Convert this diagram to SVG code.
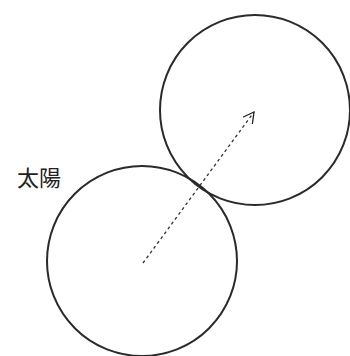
<svg xmlns="http://www.w3.org/2000/svg" width="350" height="356" viewBox="0 0 350 356">
<style>
.c{fill:none;stroke:#2a2a2a;stroke-width:2}
.lbl{font-family:"Liberation Serif","Noto Sans CJK JP",serif;font-size:22px;fill:#222}
</style>
<defs>
<marker id="ah" viewBox="0 0 12 12" refX="11" refY="6" markerWidth="12" markerHeight="12" markerUnits="userSpaceOnUse" orient="auto">
<path d="M0,0 L11,6 L0,12" fill="none" stroke="#222" stroke-width="1.3"/>
</marker>
</defs>
<rect width="350" height="356" fill="#fff"/>
<g id="sun">
<circle class="c" cx="142" cy="261" r="95"/>
<text class="lbl" x="17" y="186">太陽</text>
</g>
<g id="circle2">
<circle class="c" cx="255" cy="110" r="95"/>
</g>
<g id="connectors">
<line x1="143" y1="263" x2="254" y2="112" stroke="#333" stroke-width="1.3" stroke-dasharray="3,3" marker-end="url(#ah)"/>
</g>
</svg>
